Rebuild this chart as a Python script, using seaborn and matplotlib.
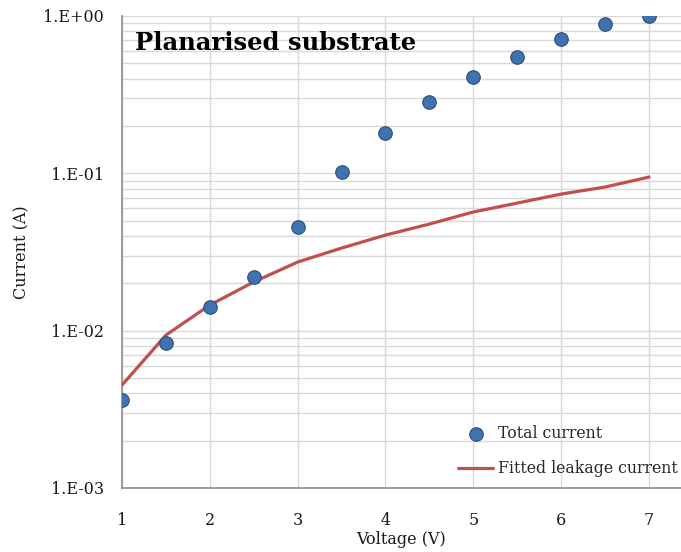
import matplotlib
matplotlib.use("Agg")
import matplotlib.pyplot as plt
import seaborn as sns
import pandas as pd
import numpy as np
from matplotlib.ticker import LogLocator, FixedLocator, FixedFormatter, NullFormatter

voltage = [1, 1.5, 2, 2.5, 3, 3.5, 4, 4.5, 5, 5.5, 6, 6.5, 7]
total_current = [0.00362, 0.00834, 0.0141, 0.0219, 0.0456, 0.102, 0.180,
                 0.284, 0.409, 0.549, 0.714, 0.889, 1.0]
leakage_current = [0.00451, 0.00937, 0.01455, 0.0204, 0.0273, 0.0335, 0.0405,
                   0.0476, 0.0568, 0.0647, 0.0738, 0.0818, 0.0947]
y_tick_vals = [1e-3, 1e-2, 1e-1, 1e0]
y_tick_labels = ["1.E-03", "1.E-02", "1.E-01", "1.E+00"]
x_ticks = [1, 2, 3, 4, 5, 6, 7]

df = pd.DataFrame({"Voltage": voltage, "Total": total_current, "Leak": leakage_current})

sns.set_theme(style="white")
plt.rcParams["font.family"] = ["DejaVu Serif"]

fig = plt.figure(figsize=(6.81, 5.52), dpi=100)
ax = fig.add_axes([122/681, 64/552, 559/681, 472/552])

sns.lineplot(data=df, x="Voltage", y="Leak", ax=ax, color="#c0504d", linewidth=2.3,
             label="Fitted leakage current", zorder=3)
sns.scatterplot(data=df, x="Voltage", y="Total", ax=ax, color="#3f72ae", edgecolor="#27507f",
                linewidth=0.8, s=95, label="Total current", zorder=4)

ax.set_yscale("log")
ax.set_ylim(1e-3, 1.0)
ax.set_xlim(1, 1 + 559/87.83)
ax.yaxis.set_major_locator(FixedLocator(y_tick_vals))
ax.yaxis.set_major_formatter(FixedFormatter(y_tick_labels))
ax.yaxis.set_minor_locator(LogLocator(base=10, subs=np.arange(2, 10), numticks=20))
ax.yaxis.set_minor_formatter(NullFormatter())
ax.set_xticks(x_ticks)

ax.grid(True, which="major", color="#d9d9d9", linewidth=1.0, zorder=0)
ax.grid(True, which="minor", axis="y", color="#d9d9d9", linewidth=1.0, zorder=0)
ax.set_axisbelow(True)

for s in ["top", "right"]:
    ax.spines[s].set_visible(False)
for s in ["left", "bottom"]:
    ax.spines[s].set_color("#8c8c8c")
    ax.spines[s].set_linewidth(1.2)

ax.tick_params(axis="both", which="major", direction="out", length=5, width=1, color="#8c8c8c",
               labelsize=11.5, labelcolor="#1a1a1a")
ax.tick_params(axis="y", which="major", pad=8)
ax.tick_params(axis="x", which="major", pad=12)
ax.tick_params(axis="y", which="minor", length=0)

ax.set_xlabel("Voltage (V)", fontsize=11.5, color="#1a1a1a", labelpad=2)
ax.set_ylabel("Current (A)", fontsize=11.5, color="#1a1a1a", labelpad=9)

fig.text(135/681, 1 - 43/552, "Planarised substrate", fontsize=17.5, fontweight="bold",
         color="black", va="center", ha="left")

handles, labels = ax.get_legend_handles_labels()
order = [labels.index("Total current"), labels.index("Fitted leakage current")]
leg = ax.legend([handles[i] for i in order], [labels[i] for i in order],
                loc="upper left", bbox_to_anchor=(452/681, 1 - 419/552),
                bbox_transform=fig.transFigure, frameon=False, fontsize=11.3,
                handlelength=2.2, handletextpad=0.3, labelspacing=1.15, borderaxespad=0)

fig.savefig("out.png", dpi=100)
